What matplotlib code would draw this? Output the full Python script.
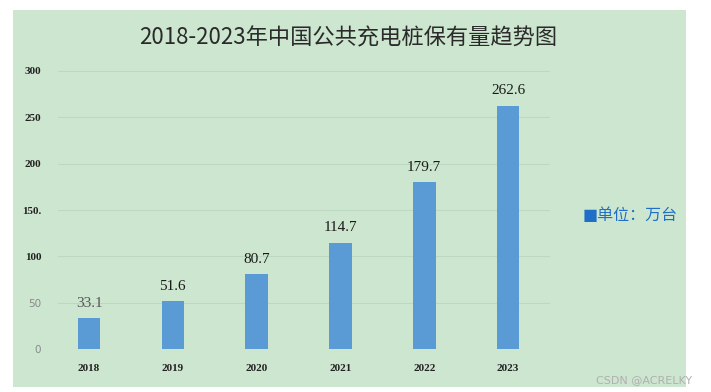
import matplotlib
matplotlib.use("Agg")
import matplotlib.pyplot as plt
from matplotlib.patches import Rectangle

years = ["2018", "2019", "2020", "2021", "2022", "2023"]
values = [33.1, 51.6, 80.7, 114.7, 179.7, 262.6]
value_labels = ["33.1", "51.6", "80.7", "114.7", "179.7", "262.6"]
yticks = [0, 50, 100, 150, 200, 250, 300]
ytick_labels = ["0", "50", "100", "150.", "200", "250", "300"]
title = "2018-2023年中国公共充电桩保有量趋势图"
legend_text = "单位：万台"
watermark = "CSDN @ACRELKY"

W, H = 711, 392
fig = plt.figure(figsize=(W / 100, H / 100), dpi=100)
fig.patch.set_facecolor("white")

bg = "#cde6cf"
# green panel
fig.patches.append(Rectangle((13 / W, 1 - 387 / H), (686 - 13) / W, (387 - 10) / H,
                             transform=fig.transFigure, facecolor=bg, edgecolor="none", zorder=-5))

ax = fig.add_axes([58 / W, 1 - 349 / H, (550 - 58) / W, (349 - 71) / H])
ax.set_zorder(2)
ax.set_facecolor("none")
x = list(range(len(years)))
ax.bar(x, values, width=0.27, color="#5b9bd5", zorder=3)
ax.set_xlim(-0.37, 5.5)
ax.set_ylim(0, 300)
ax.set_yticks(yticks)
ax.set_yticklabels(ytick_labels)
ax.set_xticks(x)
ax.set_xticklabels(years)
for s in ax.spines.values():
    s.set_visible(False)
ax.grid(axis="y", color="#bcd8c0", linewidth=0.8, zorder=1)
ax.tick_params(axis="both", length=0)
ax.tick_params(axis="y", pad=12)
ax.tick_params(axis="x", pad=11)
for lab in ax.get_yticklabels():
    lab.set_family("Liberation Serif")
    lab.set_fontsize(8)
    lab.set_fontweight("bold")
    lab.set_color("#222222")
for lab in ax.get_yticklabels()[:2]:
    lab.set_color("#8a8a8a")
    lab.set_fontweight("normal")
    lab.set_family("DejaVu Sans")
    lab.set_fontsize(7.5)
for lab in ax.get_xticklabels():
    lab.set_family("Liberation Serif")
    lab.set_fontsize(8)
    lab.set_fontweight("bold")
    lab.set_color("#222222")

for i, (v, t) in enumerate(zip(values, value_labels)):
    col = "#555555" if i < 1 else "#1a1a1a"
    ax.annotate(t, (i, v), xytext=(0, 6), textcoords="offset points",
                ha="center", va="bottom", fontsize=11,
                family="Liberation Serif", color=col)

fig.text(348 / W, 1 - 38 / H, title, ha="center", va="center", fontsize=16,
         family=["Noto Sans CJK SC", "DejaVu Sans"], color="#2a2a2a")

fig.text(583 / W, 1 - 215 / H, "■" + legend_text, ha="left", va="center", fontsize=11.5,
         family=["DejaVu Sans", "Noto Sans CJK SC"], color="#1f6fc8")

fig.text(692 / W, 1 - 380 / H, watermark, ha="right", va="center", fontsize=8,
         family="DejaVu Sans", color="#b0b0b0")

fig.savefig("out.png", dpi=100)
